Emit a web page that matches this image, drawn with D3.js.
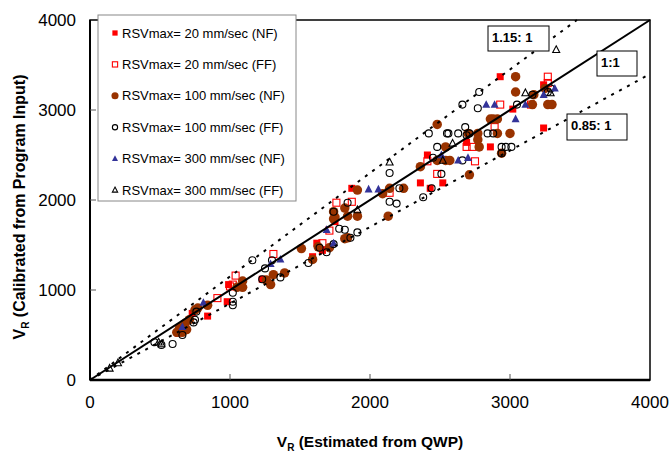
<!DOCTYPE html>
<html>
<head>
<meta charset="utf-8">
<script src="https://cdn.jsdelivr.net/npm/d3@7"></script>
<style>
  body { margin: 0; background: #fff; }
  svg { font-family: "Liberation Sans", Arial, sans-serif; }
</style>
</head>
<body>
<div id="chart"></div>
<script>
// data: [V_R estimated from QWP, V_R calibrated]
const nf20 = [[980,870],[840,710],[730,740],[630,520],[990,1060],[1230,1120],[1620,1520],[1660,1440],[1750,1760],[1590,1370],[1870,2130],[2360,2190],[2520,2190],[2430,2130],[2410,2500],[2930,3370],[3020,3010],[2690,2640],[2860,2590],[3240,2800],[3240,3280]];
const ff20 = [[1040,1160],[1020,1060],[910,910],[1760,1970],[1310,1400],[1000,1040],[1710,1660],[1660,1520],[2140,2080],[2480,2290],[1870,1980],[2410,2430],[2930,3060],[2890,2810],[2690,2590],[2730,2590],[2750,2430],[3150,3060],[3270,3370],[3270,3300]];
const nf100 = [[1050,1030],[840,830],[770,800],[710,670],[680,630],[640,580],[620,530],[690,560],[660,530],[750,780],[1740,1870],[1750,1810],[1510,1460],[1390,1190],[1310,1170],[1260,1110],[1290,1060],[1090,1100],[1090,1030],[1840,1580],[1630,1480],[1710,1470],[1590,1340],[1910,2110],[2140,2130],[2090,2070],[2360,2370],[2540,2590],[2130,1820],[1820,1910],[1840,1820],[1910,1820],[1740,1790],[1820,1570],[2240,2130],[3040,3370],[3040,3200],[2880,2900],[2910,2900],[2860,2900],[3000,2740],[2770,2740],[2770,2670],[2780,2590],[2700,2740],[2480,2840],[2540,2440],[2570,2440],[2480,2440],[2710,2280],[3160,3060],[2910,2740],[2940,2520],[3170,3170],[3270,3060],[3300,3060],[3250,3240]];
const ff100 = [[1020,870],[1020,830],[1020,970],[750,670],[740,640],[660,500],[590,400],[510,390],[760,760],[1840,1970],[1820,1670],[1160,1330],[1250,1240],[1360,1140],[1560,1300],[1230,1120],[1300,1330],[1640,1470],[1690,1420],[1740,1510],[2140,2300],[2210,2130],[2140,1980],[2190,1960],[2480,2590],[2550,2740],[2440,2130],[2450,2470],[2380,2030],[2510,2290],[1780,1680],[1910,1640],[1860,1580],[1740,1870],[2420,2740],[2780,3200],[2660,3060],[2770,3020],[2560,2740],[2630,2740],[2680,2810],[2690,2720],[2840,2740],[2880,2740],[2940,2590],[2970,2590],[3010,2590],[2940,2520],[2660,2440],[3050,3060],[2710,2740],[3160,3170],[3290,3240],[3270,3200],[460,420]];
const nf300 = [[810,860],[660,590],[1690,1670],[1360,1340],[1290,1290],[1740,1520],[1990,2120],[2060,2120],[2510,2500],[2630,2440],[2830,3060],[2890,3060],[3040,2900],[3110,3060],[2700,2470],[3320,3240],[3240,3170]];
const ff300 = [[490,420],[510,400],[2140,2420],[2590,2630],[1910,1890],[3110,3190],[2520,2440],[3330,3670],[3290,3190],[140,130],[200,190]];

const seriesNames = ['RSVmax= 20 mm/sec (NF)', 'RSVmax= 20 mm/sec (FF)', 'RSVmax= 100 mm/sec (NF)',
  'RSVmax= 100 mm/sec (FF)', 'RSVmax= 300 mm/sec (NF)', 'RSVmax= 300 mm/sec (FF)'];
const ticks = [0, 1000, 2000, 3000, 4000];
const ratios = [1, 1.15, 0.85];
const ratioLabels = ['1:1', '1.15: 1', '0.85: 1'];

const width = 671;
const height = 457;
const margin = { top: 20, right: 21, bottom: 77, left: 90 };

const svg = d3.select('#chart')
  .append('svg')
  .attr('width', width)
  .attr('height', height);

const x = d3.scaleLinear().domain([0, 4000]).range([margin.left, width - margin.right]);
const y = d3.scaleLinear().domain([0, 4000]).range([height - margin.bottom, margin.top]);

// marker styles per series
const styles = [
  { shape: 'square', fill: '#ff0000', stroke: 'none', size: 7 },
  { shape: 'square', fill: 'none', stroke: '#ff0000', size: 7 },
  { shape: 'circle', fill: '#993300', stroke: 'none', size: 9.5 },
  { shape: 'circle', fill: 'none', stroke: '#000', size: 7 },
  { shape: 'triangle', fill: '#333399', stroke: 'none', size: 8 },
  { shape: 'triangle', fill: 'none', stroke: '#000', size: 7 }
];
const allSeries = [nf20, ff20, nf100, ff100, nf300, ff300];

function drawMarker(g, st, cx, cy, scale) {
  const s = st.size * (scale || 1);
  let m;
  if (st.shape === 'square') {
    m = g.append('rect').attr('x', cx - s / 2).attr('y', cy - s / 2).attr('width', s).attr('height', s);
  } else if (st.shape === 'circle') {
    m = g.append('circle').attr('cx', cx).attr('cy', cy).attr('r', s / 2);
  } else {
    m = g.append('path')
      .attr('d', `M${cx},${cy - s * 0.55}L${cx + s / 2},${cy + s * 0.4}L${cx - s / 2},${cy + s * 0.4}Z`);
  }
  m.attr('fill', st.fill).attr('stroke', st.stroke).attr('stroke-width', 1.1);
}

// points
const pts = svg.append('g');
allSeries.forEach((data, i) => {
  data.forEach(d => drawMarker(pts, styles[i], x(d[0]), y(d[1])));
});

// reference lines
const lines = svg.append('g');
ratios.forEach((r, i) => {
  const xEnd = Math.min(4000, 4000 / r);
  lines.append('line')
    .attr('x1', x(0)).attr('y1', y(0))
    .attr('x2', x(xEnd)).attr('y2', y(xEnd * r))
    .attr('stroke', '#000')
    .attr('stroke-width', 2)
    .attr('stroke-dasharray', i === 0 ? null : '3,6');
});

// frame and axes
svg.append('rect')
  .attr('x', x(0)).attr('y', y(4000))
  .attr('width', x(4000) - x(0)).attr('height', y(0) - y(4000))
  .attr('fill', 'none').attr('stroke', '#000').attr('stroke-width', 1.5);
svg.append('line').attr('x1', x(0)).attr('x2', x(0)).attr('y1', y(4000)).attr('y2', y(0))
  .attr('stroke', '#000').attr('stroke-width', 2);
svg.append('line').attr('x1', x(0)).attr('x2', x(4000)).attr('y1', y(0)).attr('y2', y(0))
  .attr('stroke', '#000').attr('stroke-width', 2.5);

const inner = ticks.slice(1, 4);
svg.append('g').selectAll('line.xt').data(inner).join('line')
  .attr('x1', d => x(d)).attr('x2', d => x(d))
  .attr('y1', y(0)).attr('y2', y(0) - 6)
  .attr('stroke', '#555').attr('stroke-width', 1);
svg.append('g').selectAll('line.yt').data(inner).join('line')
  .attr('y1', d => y(d)).attr('y2', d => y(d))
  .attr('x1', x(0)).attr('x2', x(0) + 6)
  .attr('stroke', '#555').attr('stroke-width', 1);

svg.append('g').selectAll('text').data(ticks).join('text')
  .attr('x', d => x(d)).attr('y', y(0) + 28)
  .attr('text-anchor', 'middle')
  .attr('font-size', '17px')
  .text(d => d);
svg.append('g').selectAll('text').data(ticks).join('text')
  .attr('x', x(0) - 14).attr('y', d => y(d))
  .attr('dy', '0.36em')
  .attr('text-anchor', 'end')
  .attr('font-size', '17px')
  .text(d => d);

// axis titles
const xt = svg.append('text')
  .attr('x', (x(0) + x(4000)) / 2).attr('y', 447)
  .attr('text-anchor', 'middle')
  .attr('font-size', '15.5px').attr('font-weight', 'bold');
xt.append('tspan').text('V');
xt.append('tspan').attr('font-size', '10px').attr('dy', 4).text('R');
xt.append('tspan').attr('dy', -4).text(' (Estimated from QWP)');

const yt = svg.append('text')
  .attr('transform', `translate(25, ${(y(0) + y(4000)) / 2 + 7}) rotate(-90)`)
  .attr('text-anchor', 'middle')
  .attr('font-size', '16px').attr('font-weight', 'bold');
yt.append('tspan').text('V');
yt.append('tspan').attr('font-size', '10px').attr('dy', 4).text('R');
yt.append('tspan').attr('dy', -4).text(' (Calibrated from Program Input)');

// ratio labels
const boxes = [
  { x: 597, y: 51, w: 40, h: 25 },
  { x: 488, y: 26, w: 61, h: 25 },
  { x: 567, y: 114, w: 60, h: 26 }
];
const lab = svg.append('g');
ratioLabels.forEach((t, i) => {
  const b = boxes[i];
  lab.append('rect').attr('x', b.x).attr('y', b.y).attr('width', b.w).attr('height', b.h)
    .attr('fill', '#fff').attr('stroke', '#000').attr('stroke-width', 1);
  lab.append('text').attr('x', b.x + 4).attr('y', b.y + 16)
    .attr('font-size', '13px').attr('font-weight', 'bold').text(t);
});

// legend
const legend = svg.append('g');
legend.append('rect').attr('x', 98).attr('y', 15).attr('width', 198).attr('height', 186)
  .attr('fill', '#fff').attr('stroke', '#888').attr('stroke-width', 1);
seriesNames.forEach((name, i) => {
  const ly = 33 + i * 31.4;
  drawMarker(legend, styles[i], 115, ly, 0.75);
  legend.append('text').attr('x', 122).attr('y', ly).attr('dy', '0.36em')
    .attr('font-size', '13px').text(name);
});
</script>
</body>
</html>
